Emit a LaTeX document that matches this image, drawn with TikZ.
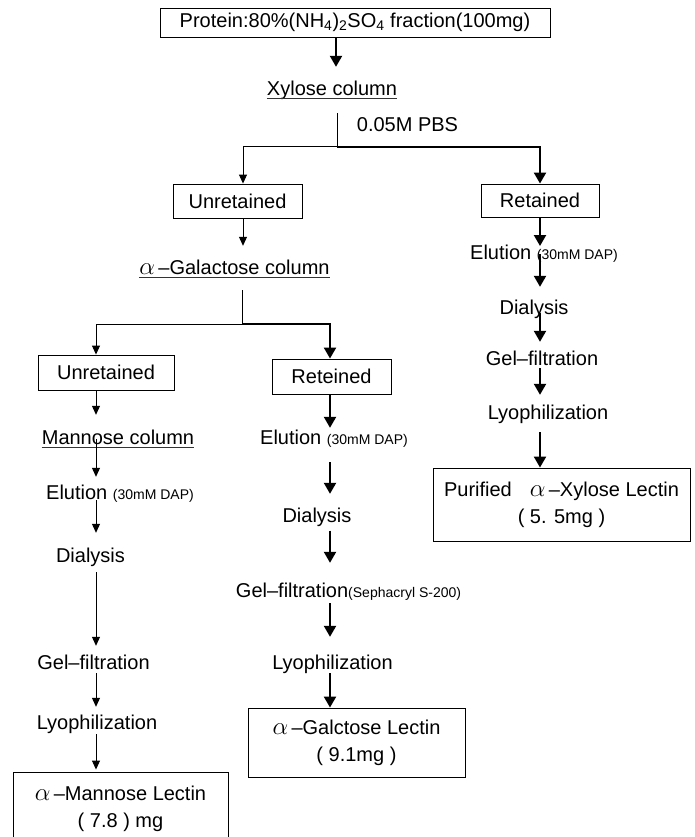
\documentclass[tikz,border=0pt]{standalone}
\usepackage{fontspec}
\setmainfont{Liberation Sans}
\usetikzlibrary{arrows.meta}

\newcommand{\smtxt}[1]{{\fontsize{14}{16}\selectfont #1}}
\newcommand{\alp}{{\fontsize{25}{27}\selectfont$\alpha$}}

\tikzset{
  txt/.style={inner xsep=0pt, inner ysep=4pt, text height=15pt, text depth=4pt},
  box/.style={draw, line width=0.9pt, inner sep=0pt, align=center},
  thinline/.style={line width=1pt},
  thickline/.style={line width=2.2pt},
  thinarr/.style={thinline, -{Triangle[length=9pt,width=8pt]}},
  thickarr/.style={thickline, -{Triangle[length=11pt,width=12pt]}},
  uline/.style={line width=0.7pt, black!80},
}

\begin{document}
\begin{tikzpicture}[x=1pt, y=-1pt, font=\fontsize{20}{27}\selectfont]
    \fill[white] (0,0) rectangle (694,837);
    \useasboundingbox (0,0) rectangle (694,837);
    \coordinate (colA) at (243,0);
    \coordinate (colL) at (96,0);
    \coordinate (colM) at (330,0);
    \coordinate (colR) at (540,0);
    \coordinate (split1) at (337,147);
    \coordinate (split2) at (242,324);

    \node[box, minimum width=390pt, minimum height=29pt] (prot) at (355,22.5)
        {Protein:80\%(NH\textsubscript{4})\textsubscript{2}SO\textsubscript{4} fraction(100mg)};
    \node[txt] (xyl) at (332,90) {Xylose column};
    \draw[uline] ([yshift=-2.5pt]xyl.base west) -- ([yshift=-2.5pt]xyl.base east);
    \node[txt] (pbs) at (407.5,126) {0.05M PBS};
    \draw[thickarr, shorten >=9.5pt] (prot.south -| 336,0) -- (xyl.north -| 336,0);
    \draw[thinline, shorten <=9.5pt] (xyl.south -| split1) -- (split1);

    \node[box, minimum width=129pt, minimum height=34pt] (unret1) at (237.5,201) {Unretained};
    \node[box, minimum width=118pt, minimum height=33pt] (ret) at (540,200.5) {Retained};
    \draw[thinarr] (split1) -| (colA |- unret1.north);
    \draw[thickarr] (split1) -| (ret.north);

    % alpha-galactose column branch
    \node[txt] (galC) at (234.5,269) {\alp\,--Galactose column};
    \draw[uline] ([yshift=-2.5pt]galC.base west) -- ([yshift=-2.5pt]galC.base east);
    \draw[thinarr, shorten >=9.5pt] (unret1.south -| colA) -- (galC.north -| colA);
    \draw[thinline, shorten <=7.5pt] (galC.south -| split2) -- (split2);

    \node[box, minimum width=136pt, minimum height=35pt] (unret2) at (106,372.5) {Unretained};
    \node[box, minimum width=119pt, minimum height=35pt] (retM) at (331.5,376.5) {Reteined};
    \draw[thinarr] (split2) -| (colL |- unret2.north);
    \draw[thickarr] (split2) -| (colM |- retM.north);

    % left column
    \node[txt] (manC) at (118,439) {Mannose column};
    \draw[uline] ([yshift=-2.5pt]manC.base west) -- ([yshift=-2.5pt]manC.base east);
    \node[txt] (elL) at (120,494) {Elution \smtxt{(30mM DAP)}};
    \node[txt] (diaL) at (90.5,557) {Dialysis};
    \node[txt] (gelL) at (93.5,664) {Gel--filtration};
    \node[txt] (lyoL) at (97,724) {Lyophilization};
    \node[box, minimum width=215pt, minimum height=73pt] (manL) at (120.5,808.5)
        {\alp\,--Mannose Lectin\\( 7.8 ) mg};
    \draw[thinarr, shorten >=10.5pt] (unret2.south -| colL) -- (manC.north -| colL);
    \draw[thinarr, shorten >=3.5pt] (manC.center -| colL) -- (elL.north -| colL);
    \draw[thinarr, shorten <=-7.5pt, shorten >=10.5pt] (elL.south -| colL) -- (diaL.north -| colL);
    \draw[thinarr, shorten <=1.5pt, shorten >=4.5pt] (diaL.south -| colL) -- (gelL.north -| colL);
    \draw[thinarr, shorten <=-4.5pt, shorten >=3.5pt] (gelL.south -| colL) -- (lyoL.north -| colL);
    \draw[thinarr, shorten <=-3.5pt, shorten >=2pt] (lyoL.south -| colL) -- (manL.north -| colL);

    % middle column
    \node[txt] (elM) at (334,439) {Elution \smtxt{(30mM DAP)}};
    \node[txt] (diaM) at (317,517) {Dialysis};
    \node[txt] (gelM) at (348.5,592) {Gel--filtration\smtxt{(Sephacryl S-200)}};
    \node[txt] (lyoM) at (332.5,664) {Lyophilization};
    \node[box, minimum width=217pt, minimum height=69pt] (galL) at (356.5,742.5)
        {\alp\,--Galctose Lectin\\( 9.1mg )};
    \draw[thickarr, shorten >=-2.5pt] (retM.south -| colM) -- (elM.north -| colM);
    \draw[thickarr, shorten <=9.5pt, shorten >=9.5pt] (elM.south -| colM) -- (diaM.north -| colM);
    \draw[thickarr, shorten >=15.5pt] (diaM.south -| colM) -- (gelM.north -| colM);
    \draw[thickarr, shorten <=-2.5pt, shorten >=13.5pt] (gelM.south -| colM) -- (lyoM.north -| colM);
    \draw[thickarr, shorten <=-4.5pt] (lyoM.south -| colM) -- (galL.north -| colM);

    % right column
    \node[txt] (elR) at (544,254) {Elution \smtxt{(30mM DAP)}};
    \node[txt] (diaR) at (534,309) {Dialysis};
    \node[txt] (gelR) at (542,360) {Gel--filtration};
    \node[txt] (lyoR) at (548,414) {Lyophilization};
    \node[box, minimum width=257pt, minimum height=73pt] (xylL) at (561.5,504.5)
        {Purified\hspace{18pt}\alp\,--Xylose Lectin\\( 5. 5mg )};
    \draw[thickarr] (ret.south -| colR) -- ([yshift=8pt]elR.center -| colR);
    \draw[thickarr, shorten >=8.5pt] (elR.center -| colR) -- (diaR.north -| colR);
    \draw[thickarr, shorten <=-9.5pt, shorten >=4.5pt] (diaR.south -| colR) -- (gelR.north -| colR);
    \draw[thickarr, shorten <=-5.5pt, shorten >=5.5pt] (gelR.south -| colR) -- (lyoR.north -| colR);
    \draw[thickarr, shorten <=4.5pt] (lyoR.south -| colR) -- (xylL.north -| colR);
\end{tikzpicture}
\end{document}
